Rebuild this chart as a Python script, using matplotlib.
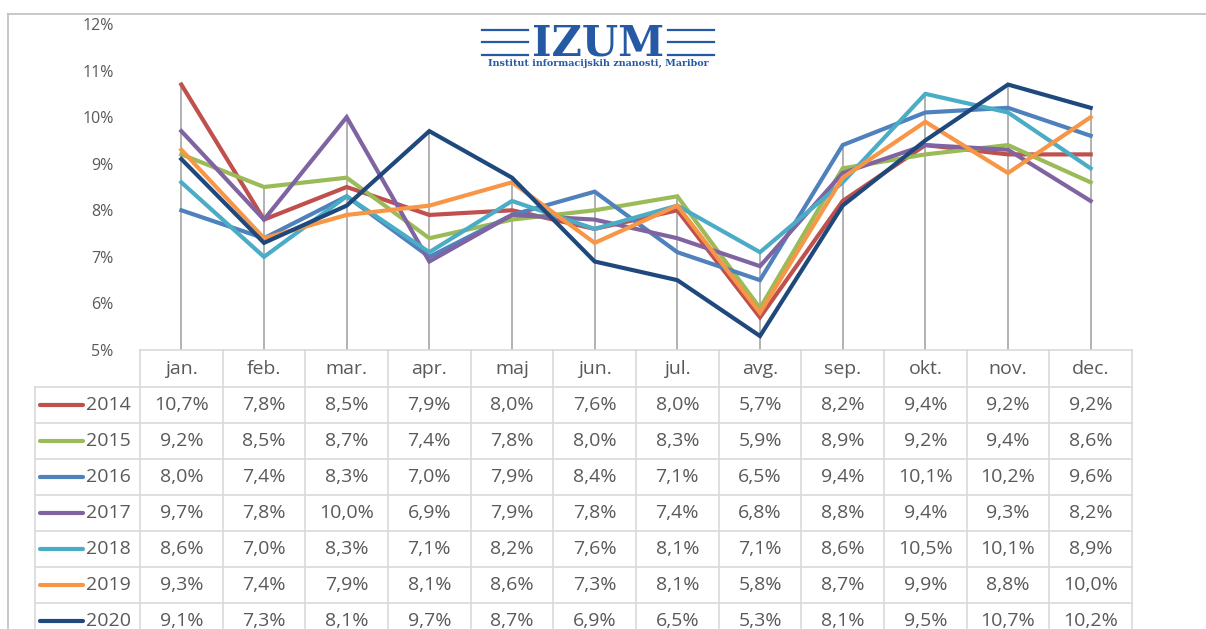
import matplotlib
matplotlib.use("Agg")
import matplotlib.pyplot as plt
import numpy as np

# data (monthly share, %)
months = ['jan.', 'feb.', 'mar.', 'apr.', 'maj', 'jun.', 'jul.', 'avg.', 'sep.', 'okt.', 'nov.', 'dec.']
years = ['2014', '2015', '2016', '2017', '2018', '2019', '2020']
v2014 = [10.7, 7.8, 8.5, 7.9, 8.0, 7.6, 8.0, 5.7, 8.2, 9.4, 9.2, 9.2]
v2015 = [9.2, 8.5, 8.7, 7.4, 7.8, 8.0, 8.3, 5.9, 8.9, 9.2, 9.4, 8.6]
v2016 = [8.0, 7.4, 8.3, 7.0, 7.9, 8.4, 7.1, 6.5, 9.4, 10.1, 10.2, 9.6]
v2017 = [9.7, 7.8, 10.0, 6.9, 7.9, 7.8, 7.4, 6.8, 8.8, 9.4, 9.3, 8.2]
v2018 = [8.6, 7.0, 8.3, 7.1, 8.2, 7.6, 8.1, 7.1, 8.6, 10.5, 10.1, 8.9]
v2019 = [9.3, 7.4, 7.9, 8.1, 8.6, 7.3, 8.1, 5.8, 8.7, 9.9, 8.8, 10.0]
v2020 = [9.1, 7.3, 8.1, 9.7, 8.7, 6.9, 6.5, 5.3, 8.1, 9.5, 10.7, 10.2]
series = [v2014, v2015, v2016, v2017, v2018, v2019, v2020]
colors = ['#C0504D', '#9BBB59', '#4F81BD', '#8064A2', '#4BACC6', '#F79646', '#1F497D']

W, H = 1206, 629
fig = plt.figure(figsize=(W / 100, H / 100), dpi=100)
font = 'Open Sans'
txt_col = '#595959'
grid_col = '#D9D9D9'

def fx(px):
    return px / W

def fy(py):
    return 1 - py / H

# outer frame of the excel chart
fig.add_artist(plt.Line2D([fx(8), 1], [fy(14), fy(14)], color='#BFBFBF', lw=1.2))
fig.add_artist(plt.Line2D([fx(8), fx(8)], [fy(14), 0], color='#BFBFBF', lw=1.2))

# plot area
left, right, top, bottom = 140, 1132, 24, 350
ax = fig.add_axes([fx(left), fy(bottom), fx(right - left), (bottom - top) / H])
x = np.arange(len(months))
ax.set_xlim(-0.5, len(months) - 0.5)
ax.set_ylim(5, 12)

# drop lines from the highest point of every month
tops = np.max(np.array(series), axis=0)
ax.vlines(x, 5, tops, color='#A6A6A6', lw=1.2, zorder=1)

for vals, c in zip(series, colors):
    ax.plot(x, vals, color=c, lw=3.0, solid_joinstyle='miter', zorder=2)

ax.set_yticks(range(5, 13))
ax.set_yticklabels([f'{t}%' for t in range(5, 13)], fontsize=11.5, color=txt_col, family=font)
ax.tick_params(axis='y', length=0, pad=19)
ax.set_xticks([])
for s in ax.spines.values():
    s.set_visible(False)
ax.patch.set_alpha(0)

# data table below the plot
tab = fig.add_axes([0, 0, 1, 1])
tab.set_xlim(0, W)
tab.set_ylim(H, 0)
tab.axis('off')
tab.patch.set_alpha(0)

col_w = (right - left) / len(months)
row_h = 36
head_h = 37
leg_left = 35
y0 = bottom
fs = 14

# header cells
tab.plot([left, right], [y0, y0], color=grid_col, lw=1.2)
for i, m in enumerate(months):
    tab.text(left + (i + 0.5) * col_w, y0 + head_h / 2, m, ha='center', va='center',
             fontsize=fs, color=txt_col, family=font)
for i in range(len(months) + 1):
    xc = left + i * col_w
    tab.plot([xc, xc], [y0, H + 20], color=grid_col, lw=1.2)

# data rows
for r, (yr, vals, c) in enumerate(zip(years, series, colors)):
    ytop = y0 + head_h + r * row_h
    tab.plot([leg_left, right], [ytop, ytop], color=grid_col, lw=1.2)
    yc = ytop + row_h / 2
    tab.plot([40, 83], [yc, yc], color=c, lw=3, solid_capstyle='round')
    tab.text(86, yc, yr, ha='left', va='center', fontsize=fs, color=txt_col, family=font)
    for i, v in enumerate(vals):
        lab = f'{v:.1f}%'.replace('.', ',')
        tab.text(left + (i + 0.5) * col_w, yc, lab, ha='center', va='center',
                 fontsize=fs, color=txt_col, family=font)
tab.plot([leg_left, leg_left], [y0 + head_h, H + 20], color=grid_col, lw=1.2)

# IZUM logo
logo = '#2559A3'
for yl in [29.5, 42, 54.5]:
    tab.plot([482, 528], [yl, yl], color=logo, lw=1.6)
    tab.plot([668, 714], [yl, yl], color=logo, lw=1.6)
tab.text(598, 55, 'IZUM', ha='center', va='baseline', fontsize=30, color=logo,
         family='DejaVu Serif', fontweight='bold')
tab.text(598, 63.5, 'Institut informacijskih znanosti, Maribor', ha='center', va='center',
         fontsize=6.9, color=logo, family='DejaVu Serif', fontweight='bold')

fig.savefig('out.png', dpi=100)
